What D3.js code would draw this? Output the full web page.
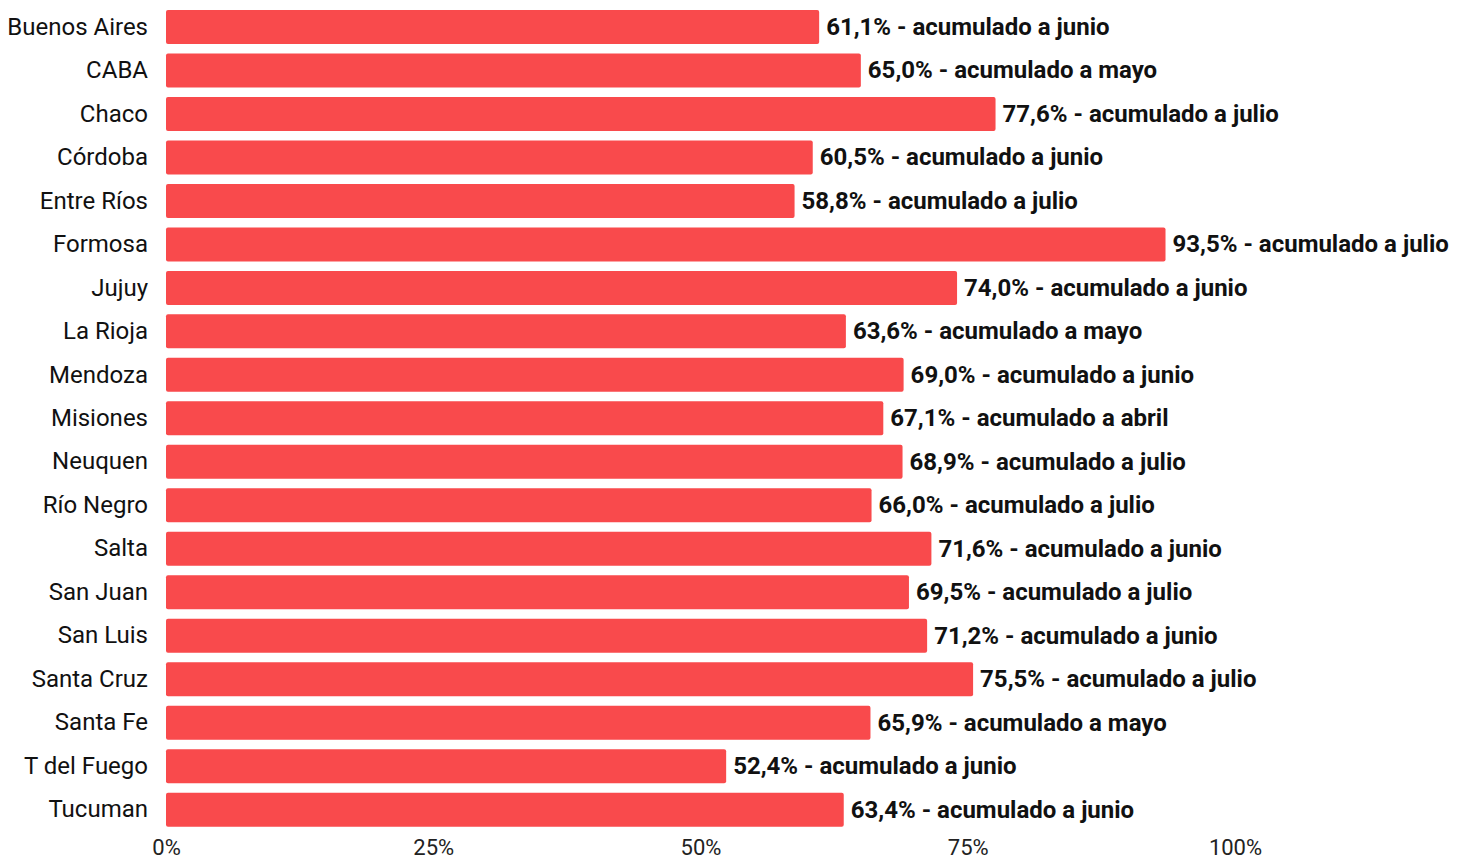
<!DOCTYPE html>
<html>
<head>
<meta charset="utf-8">
<script src="https://cdn.jsdelivr.net/npm/d3@7"></script>
<style>
  body { margin: 0; background: #fff; }
  svg { display: block; font-family: Roboto, sans-serif; }
</style>
</head>
<body>
<div id="chart"></div>
<script>
// provincias y avance acumulado (%)
const provincias = ['Buenos Aires', 'CABA', 'Chaco', 'Córdoba', 'Entre Ríos', 'Formosa', 'Jujuy', 'La Rioja',
  'Mendoza', 'Misiones', 'Neuquen', 'Río Negro', 'Salta', 'San Juan', 'San Luis', 'Santa Cruz', 'Santa Fe',
  'T del Fuego', 'Tucuman'];
const valores = [61.1, 65.0, 77.6, 60.5, 58.8, 93.5, 74.0, 63.6, 69.0, 67.1, 68.9, 66.0, 71.6, 69.5, 71.2, 75.5, 65.9, 52.4, 63.4];
const meses = ['junio', 'mayo', 'julio', 'junio', 'julio', 'julio', 'junio', 'mayo', 'junio', 'abril', 'julio', 'julio',
  'junio', 'julio', 'junio', 'julio', 'mayo', 'junio', 'junio'];
const ticks = [0, 25, 50, 75, 100];

const width = 1466, height = 859;
const data = provincias.map((p, i) => ({ prov: p, val: valores[i], mes: meses[i] }));

const svg = d3.select('#chart').append('svg').attr('width', width).attr('height', height);

const x = d3.scaleLinear().domain([0, 100]).range([166, 1235]);
const y = d3.scaleBand().domain(provincias).range([5.26, 831.4]).paddingInner(0.218).paddingOuter(0.109);

const fmt = v => d3.format('.1f')(v).replace('.', ',') + '%';

// barras
svg.append('g').selectAll('rect').data(data).enter().append('rect')
  .attr('x', x(0))
  .attr('y', d => y(d.prov))
  .attr('width', d => x(d.val) - x(0))
  .attr('height', y.bandwidth())
  .attr('rx', 2)
  .attr('fill', '#f94a4c');

// etiquetas de valor
svg.append('g').selectAll('text').data(data).enter().append('text')
  .attr('x', d => x(d.val) + 7)
  .attr('y', d => y(d.prov) + y.bandwidth() / 2)
  .attr('dy', '0.33em')
  .attr('font-size', 24)
  .attr('font-weight', 'bold')
  .attr('fill', '#111')
  .text(d => fmt(d.val) + ' - acumulado a ' + d.mes);

// eje y
const yAxis = svg.append('g').attr('transform', 'translate(166,0)')
  .call(d3.axisLeft(y).tickSize(0).tickPadding(18));
yAxis.select('.domain').remove();
yAxis.selectAll('text').attr('font-size', 24).attr('font-family', 'Roboto, sans-serif').attr('fill', '#111');

// eje x
const xAxis = svg.append('g').attr('transform', 'translate(0,833)')
  .call(d3.axisBottom(x).tickValues(ticks).tickSize(0).tickPadding(6).tickFormat(d => d + '%'));
xAxis.select('.domain').remove();
xAxis.selectAll('text').attr('font-size', 22).attr('font-family', 'Roboto, sans-serif').attr('fill', '#222');
</script>
</body>
</html>
